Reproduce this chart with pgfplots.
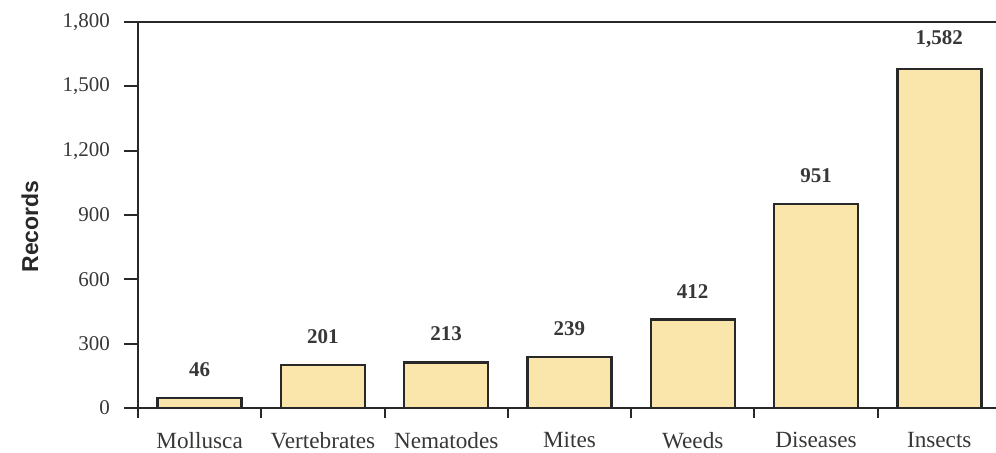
\documentclass[border=0pt]{standalone}
\usepackage{fontspec}
\setmainfont{Liberation Serif}
\setsansfont{Liberation Sans}
\usepackage{pgfplots}
\pgfplotsset{compat=1.18}
\definecolor{barfill}{RGB}{250,229,170}
\definecolor{ink}{RGB}{40,40,40}
\definecolor{labelgray}{RGB}{55,55,55}

\begin{document}
\begin{tikzpicture}
\begin{axis}[
  scale only axis, width=429pt, height=193pt,
  xmin=-0.5, xmax=6.46, ymin=0, ymax=1800,
  axis x line*=bottom, axis y line*=left,
  axis line style={ink, line width=1pt},
  tick style={ink, line width=1pt},
  tick align=outside,
  major tick length=7pt, minor tick length=5pt,
  ytick={0,300,...,1800},
  xtick={0,...,6},
  xticklabels={Mollusca,Vertebrates,Nematodes,Mites,Weeds,Diseases,Insects},
  every major x tick/.append style={draw=none},
  minor xtick={-0.5,0.5,...,5.5},
  /pgf/number format/assume math mode=true,
  /pgf/number format/1000 sep={,},
  tick label style={text=labelgray},
  yticklabel style={xshift=-3.5pt, font=\fontsize{10.5}{12}\selectfont},
  xticklabel style={yshift=-1.5pt, font=\fontsize{11.6}{13}\selectfont},
  ylabel={Records},
  every axis y label/.style={at={(axis description cs:0,0.47)}, xshift=-54pt,
    rotate=90, anchor=center, font=\sffamily\bfseries\fontsize{11.5}{13}\selectfont, text=ink},
  ybar, bar width=42pt,
  nodes near coords,
  every node near coord/.append style={font=\bfseries\fontsize{10.5}{12}\selectfont,
    text=labelgray, inner sep=0pt, yshift=10pt},
  clip=false,
]
\addplot[fill=barfill, draw=ink, line width=1.2pt] coordinates {
  (0,46) (1,201) (2,213) (3,239) (4,412) (5,951) (6,1582)
};
\draw[ink, line width=1pt] (rel axis cs:0,1) -- (rel axis cs:1,1);
\end{axis}
\pgfresetboundingbox
\path (-69pt,-22pt) rectangle (429pt,204pt);
\end{tikzpicture}
\end{document}
